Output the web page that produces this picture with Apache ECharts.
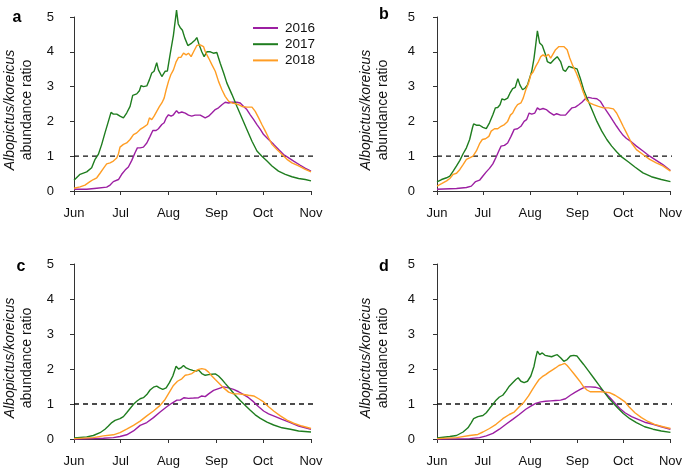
<!DOCTYPE html>
<html>
<head>
<meta charset="utf-8">
<script src="https://cdn.jsdelivr.net/npm/echarts@6/dist/echarts.min.js"></script>
<style>
html,body{margin:0;padding:0;background:#fff;}
#chart{width:685px;height:468px;}
</style>
</head>
<body>
<div id="chart"></div>
<script>
// ---- axis definitions (day index from 1 June) ----
const monthTicks = [0, 30, 61, 92, 122, 153];
const monthLabels = ['Jun', 'Jul', 'Aug', 'Sep', 'Oct', 'Nov'];
const yMin = 0, yMax = 5, yStep = 1;
const seriesNames = ['2016', '2017', '2018'];
const panelLetters = ['a', 'b', 'c', 'd'];
const refLevel = [[0, 1], [157, 1]];   // ratio = 1 reference

// ---- panel a ----
const a2016 = [[0,0.05],[8.2,0.05],[14.7,0.08],[21.1,0.11],[23.3,0.17],[25.4,0.27],[28.7,0.33],[30.8,0.48],[33,0.6],[35.1,0.69],[37.3,0.88],[39.4,1.1],[40.9,1.24],[42.7,1.24],[44.8,1.26],[47,1.38],[49.1,1.57],[50.9,1.74],[53,1.74],[54.5,1.79],[56.7,1.91],[58.2,1.96],[59.5,2.1],[61,2.19],[62.7,2.15],[64.2,2.19],[66.2,2.31],[67.5,2.24],[69.6,2.27],[71.8,2.24],[73.9,2.18],[76,2.15],[78.2,2.18],[81.5,2.18],[84.7,2.1],[86.9,2.15],[89,2.24],[91.2,2.34],[93.3,2.39],[95.5,2.48],[97.6,2.55],[99.8,2.53],[102,2.55],[105.2,2.55],[107.3,2.53],[109.5,2.43],[111.6,2.34],[113.8,2.19],[116,2.05],[118.1,1.91],[120.3,1.77],[122.4,1.62],[125.6,1.48],[128.9,1.34],[132.1,1.19],[135.3,1.05],[138.6,0.95],[141.8,0.86],[146.1,0.74],[149.4,0.65],[153,0.57]];
const a2017 = [[0,0.31],[3.9,0.48],[8.2,0.55],[11.4,0.67],[13.6,0.91],[15.7,1.05],[17.9,1.34],[20,1.67],[22.2,2.0],[23.9,2.26],[25.4,2.21],[27.6,2.21],[29.7,2.15],[31.9,2.1],[34,2.24],[36.2,2.43],[37.9,2.75],[40.5,2.79],[42.2,2.88],[43.3,3.03],[44.8,3.0],[47,3.02],[48.7,3.2],[50.2,3.39],[51.7,3.44],[53.4,3.69],[54.5,3.48],[56.7,3.29],[58.8,3.44],[60.3,3.45],[62,3.91],[64.2,4.48],[66.2,5.2],[67.3,4.8],[68.5,4.7],[70,4.62],[71.5,4.4],[73.5,4.18],[76,4.25],[78.2,4.34],[79.3,4.41],[80.8,4.2],[82.5,4.0],[84,3.86],[85.8,4.0],[88,4.0],[90,3.96],[92.2,3.98],[94.4,3.67],[96.6,3.39],[98.7,3.1],[102,2.77],[105.2,2.43],[108.4,2.1],[111.6,1.77],[114.9,1.43],[118.1,1.15],[121.3,1.0],[124.6,0.86],[127.8,0.72],[132,0.57],[136.4,0.48],[140.7,0.41],[145,0.36],[149.3,0.33],[153,0.29]];
const a2018 = [[0,0.08],[3.9,0.12],[7.1,0.17],[10.3,0.27],[12.5,0.33],[14.7,0.38],[16.8,0.51],[19,0.65],[21.1,0.78],[23.3,0.81],[25.4,0.86],[27.6,0.95],[28.7,1.07],[29.7,1.26],[31.9,1.34],[34,1.38],[36.2,1.48],[38.4,1.62],[40.5,1.67],[42.7,1.77],[44.8,1.83],[47.4,1.91],[48.7,2.1],[50.2,2.05],[51.7,2.15],[53.4,2.29],[55.2,2.43],[56.7,2.53],[58.2,2.67],[59.5,2.91],[61,3.15],[62.5,3.34],[64.2,3.48],[66,3.72],[67.5,3.84],[69,3.84],[70.7,3.96],[72.4,3.91],[73.9,3.96],[75.6,3.86],[77.2,4.0],[79.3,4.18],[81.5,4.2],[83.6,4.15],[84.7,4.01],[86.9,3.82],[89,3.63],[91.2,3.44],[93.3,3.15],[95.5,2.91],[97.6,2.72],[99.8,2.58],[102,2.53],[104,2.51],[106.2,2.48],[108.4,2.43],[111.6,2.41],[114.9,2.41],[117,2.29],[119.2,2.1],[121.3,1.91],[123.5,1.72],[125.6,1.53],[127.8,1.34],[131,1.19],[134.3,1.05],[137.5,0.91],[140.7,0.81],[145,0.72],[149.3,0.62],[153,0.55]];

// ---- panel b ----
const b2016 = [[0,0.05],[12.8,0.07],[19.3,0.1],[22.5,0.14],[25.3,0.27],[27.9,0.31],[30.1,0.43],[32.3,0.55],[34.4,0.65],[36.6,0.78],[38.7,0.97],[40.5,1.15],[42,1.29],[44.2,1.31],[46.3,1.38],[48.5,1.57],[50.6,1.77],[52.8,1.79],[55,1.86],[57.1,2.0],[58.7,2.05],[60.4,2.24],[62.1,2.21],[64.1,2.24],[65.8,2.39],[67.3,2.34],[69.5,2.37],[71.6,2.34],[73.8,2.26],[76.6,2.18],[78.4,2.22],[81,2.18],[84.2,2.18],[86.4,2.29],[88.5,2.39],[90.7,2.41],[92.9,2.48],[95,2.55],[97.2,2.65],[99.4,2.69],[101.5,2.67],[104.8,2.65],[107,2.58],[109.1,2.43],[111.3,2.29],[113.4,2.15],[115.6,2.0],[117.7,1.86],[119.9,1.72],[122,1.6],[124.2,1.51],[127.5,1.41],[130.7,1.29],[135,1.15],[139.4,1.0],[143.7,0.88],[148,0.76],[153,0.59]];
const b2017 = [[0,0.26],[3,0.33],[6.3,0.38],[8.4,0.43],[10.6,0.57],[12.8,0.72],[15,0.88],[17.1,1.07],[19.3,1.24],[21.4,1.48],[23.2,1.81],[24,1.93],[25.8,1.89],[27.9,1.89],[30.1,1.83],[32.3,1.79],[34.4,1.96],[36.6,2.19],[38.3,2.39],[39.8,2.4],[41.3,2.48],[42.6,2.65],[44.2,2.62],[46.3,2.67],[47.8,2.81],[49.6,2.94],[51.3,2.98],[53,3.23],[54.3,3.05],[56.1,2.91],[57.8,2.96],[59.3,3.05],[60.4,3.05],[62.1,3.44],[63.6,3.82],[64.7,4.2],[65.8,4.6],[67.3,4.25],[69,4.18],[71.2,3.91],[72.3,3.72],[74.5,3.67],[76.6,3.77],[78.8,3.86],[81,3.72],[82.7,3.48],[84.2,3.44],[86.4,3.58],[88.5,3.55],[91.8,3.51],[93.9,3.24],[96.1,2.91],[98.3,2.67],[101.5,2.34],[104.8,2.0],[108,1.72],[111.3,1.48],[114.5,1.29],[117.7,1.13],[121,0.98],[125.3,0.84],[129.7,0.69],[135,0.52],[140.5,0.41],[147,0.33],[153,0.27]];
const b2018 = [[0,0.14],[3,0.21],[6.3,0.29],[8.4,0.36],[10.6,0.48],[12.8,0.51],[15,0.62],[17.1,0.76],[19.3,0.91],[21.4,0.95],[23.6,1.0],[25.8,1.15],[27.9,1.36],[29.7,1.48],[31.8,1.5],[34,1.57],[35.5,1.72],[37.7,1.79],[39.8,1.79],[42,1.86],[44.2,1.91],[46.3,2.0],[48.1,2.18],[49.6,2.24],[51.3,2.39],[52.8,2.48],[55,2.53],[56.5,2.67],[58.2,2.91],[60,3.1],[61.5,3.34],[63,3.42],[64.7,3.58],[66.5,3.72],[68,3.86],[69.5,3.91],[71.2,3.86],[73,3.93],[74.5,3.82],[75.5,3.82],[77.7,4.06],[79.9,4.15],[83.1,4.15],[85.3,4.06],[87,3.82],[89.2,3.58],[91.3,3.39],[93.5,3.15],[95.7,2.86],[97.8,2.62],[100,2.53],[102.6,2.48],[105.8,2.43],[109,2.39],[112.3,2.39],[115.6,2.36],[117.7,2.24],[119.9,2.05],[122,1.86],[124.2,1.67],[127.5,1.38],[130.7,1.19],[135,1.05],[139.4,0.91],[143.7,0.81],[148,0.72],[153,0.57]];

// ---- panel c ----
const c2016 = [[0,0],[19,0.02],[25.4,0.04],[29.7,0.07],[34,0.12],[38.4,0.23],[42.7,0.39],[47,0.47],[51.3,0.61],[55.6,0.77],[59.9,0.92],[63.1,1.02],[66.4,1.11],[68.5,1.11],[71.1,1.18],[73.9,1.16],[77.2,1.17],[80.4,1.18],[82.5,1.23],[84.7,1.21],[86.9,1.29],[90.1,1.39],[93.3,1.44],[96.6,1.49],[99.8,1.46],[103,1.42],[106.3,1.35],[109.5,1.27],[112.7,1.18],[116,1.06],[119.2,0.92],[122.4,0.8],[125.6,0.72],[130,0.64],[134.3,0.56],[139.7,0.47],[145,0.37],[153,0.28]];
const c2017 = [[0,0.03],[8.2,0.06],[12.5,0.1],[16.8,0.18],[20,0.28],[22.2,0.37],[24.4,0.47],[26.5,0.53],[29.7,0.58],[31.9,0.64],[34,0.75],[36.2,0.87],[38.4,0.99],[40.5,1.08],[42.7,1.15],[44.8,1.18],[47,1.27],[49.1,1.4],[51.3,1.48],[53.4,1.51],[55.2,1.46],[57.3,1.42],[59.5,1.46],[61.6,1.61],[63.8,1.8],[65.9,2.08],[67.5,2.0],[69,2.03],[70.7,2.1],[72.4,2.03],[74.6,1.99],[76.7,1.96],[78.9,1.94],[80.4,1.97],[82.5,1.87],[84.7,1.82],[86.9,1.84],[89,1.85],[91.2,1.86],[93.3,1.8],[95.5,1.7],[97.6,1.59],[100.9,1.42],[104.1,1.25],[107.3,1.1],[110.6,0.96],[113.8,0.82],[117,0.69],[120.3,0.59],[124.6,0.48],[128.9,0.4],[134.3,0.32],[139.7,0.28],[145,0.23],[153,0.2]];
const c2018 = [[0,0.01],[12.5,0.04],[19,0.09],[25.4,0.12],[29.7,0.18],[34,0.28],[38.4,0.39],[42.7,0.51],[47,0.66],[51.3,0.8],[55.6,0.96],[58.8,1.13],[61.6,1.34],[64.2,1.53],[66.8,1.65],[69.6,1.72],[71.8,1.82],[73.9,1.84],[76.1,1.87],[78.2,1.94],[80.4,1.99],[82.5,2.01],[84.7,1.99],[86.9,1.91],[89,1.8],[91.2,1.7],[93.3,1.61],[96.6,1.46],[99.8,1.34],[103,1.29],[106.3,1.29],[109.5,1.27],[112.7,1.25],[116,1.23],[119.2,1.15],[122.4,1.06],[125.6,0.92],[128.9,0.8],[133.2,0.66],[137.5,0.54],[141.8,0.45],[147.2,0.37],[153,0.3]];

// ---- panel d ----
const d2016 = [[0,0],[21.4,0.01],[27.9,0.04],[32.3,0.09],[36.6,0.16],[40.9,0.28],[45.2,0.42],[49.6,0.56],[53.9,0.7],[58.2,0.85],[61.5,0.94],[64.7,1.02],[68,1.06],[71.2,1.08],[74.5,1.09],[77.7,1.1],[81,1.11],[84.2,1.15],[87.4,1.25],[90.7,1.34],[93.9,1.42],[97.2,1.49],[100.4,1.49],[103.7,1.48],[106.9,1.44],[110.2,1.32],[113.4,1.18],[116.7,1.02],[119.9,0.87],[123.2,0.75],[127.5,0.64],[131.8,0.56],[136.1,0.48],[141.6,0.42],[147,0.35],[153,0.28]];
const d2017 = [[0,0.03],[8.4,0.07],[12.8,0.1],[17.1,0.2],[20.3,0.32],[22.5,0.47],[24,0.58],[26.8,0.64],[30.1,0.67],[32.3,0.75],[34.4,0.87],[36.6,0.99],[38.7,1.11],[40.9,1.2],[43.1,1.25],[45.2,1.37],[47.4,1.51],[49.6,1.61],[51.7,1.7],[53.2,1.75],[55,1.65],[57.1,1.61],[59.3,1.65],[61.5,1.8],[63.6,2.08],[64.7,2.32],[65.8,2.51],[67.3,2.41],[69,2.46],[70.8,2.39],[72.9,2.37],[75.1,2.35],[77.3,2.39],[78.8,2.41],[81,2.32],[83.1,2.22],[85.3,2.27],[87.4,2.37],[89.6,2.39],[91.8,2.37],[93.9,2.25],[96.1,2.13],[99.4,1.94],[102.6,1.75],[105.8,1.56],[109.1,1.37],[112.3,1.18],[115.6,1.02],[118.8,0.87],[122.1,0.73],[126.4,0.58],[130.7,0.47],[136.1,0.35],[141.6,0.28],[147,0.23],[153,0.19]];
const d2018 = [[0,0.01],[12.8,0.04],[21.4,0.1],[26.8,0.13],[30.1,0.2],[34.4,0.3],[38.7,0.42],[43.1,0.58],[47.4,0.7],[50.6,0.77],[53.9,0.92],[57.1,1.06],[60,1.23],[62.6,1.42],[64.7,1.56],[66.9,1.7],[69,1.78],[71.2,1.84],[73.4,1.91],[75.5,1.97],[77.7,2.03],[79.9,2.1],[82,2.13],[83.8,2.16],[85.3,2.1],[87.4,1.99],[89.6,1.87],[91.8,1.75],[93.9,1.63],[96.1,1.49],[98.3,1.4],[100.4,1.35],[103.7,1.35],[106.9,1.35],[110.2,1.34],[113.4,1.32],[116.7,1.25],[119.9,1.16],[123.2,1.06],[125.8,0.92],[129.7,0.75],[134,0.61],[138.3,0.5],[142.6,0.42],[148.1,0.35],[153,0.3]];

// ---- styling / layout ----
const colors = {'2016': '#9c1fa2', '2017': '#1f7d1f', '2018': '#ff9d24'};
const FONT = '"Liberation Sans", Arial, sans-serif';
const grids = [
  {left: 74, right: 374, top: 17, bottom: 277},
  {left: 437, right: 13, top: 17, bottom: 277},
  {left: 74, right: 374, top: 264, bottom: 28},
  {left: 437, right: 13, top: 264, bottom: 28}
];
const yOffsets = [11, 13, 11, 13];
const panelData = [
  [a2016, a2017, a2018],
  [b2016, b2017, b2018],
  [c2016, c2017, c2018],
  [d2016, d2017, d2018]
];
const letterPos = [[17, 18], [384, 15], [21, 267], [384, 267]];
const namePos = [[10, 27, 110], [366, 383, 110], [10, 27, 358], [366, 383, 358]];

const xAxes = [], yAxes = [], series = [], graphics = [];
grids.forEach((g, i) => {
  xAxes.push({
    type: 'value', gridIndex: i, min: monthTicks[0], max: monthTicks[monthTicks.length - 1],
    offset: 8,
    axisLine: {show: true, lineStyle: {color: '#333', width: 1}},
    axisTick: {show: true, length: 4, customValues: monthTicks, lineStyle: {color: '#333'}},
    axisLabel: {
      customValues: monthTicks, margin: 8, color: '#111', fontSize: 13, fontFamily: FONT,
      formatter: v => monthLabels[monthTicks.indexOf(v)] || ''
    },
    splitLine: {show: false}
  });
  yAxes.push({
    type: 'value', gridIndex: i, min: yMin, max: yMax, interval: yStep,
    offset: yOffsets[i],
    axisLine: {show: true, lineStyle: {color: '#333', width: 1}},
    axisTick: {show: true, length: 4, lineStyle: {color: '#333'}},
    axisLabel: {margin: 9, color: '#111', fontSize: 13, fontFamily: FONT},
    splitLine: {show: false}
  });
  panelData[i].forEach((d, k) => {
    series.push({
      name: seriesNames[k], type: 'line', xAxisIndex: i, yAxisIndex: i,
      data: d, showSymbol: false, symbol: 'none', smooth: false, clip: false,
      lineStyle: {color: colors[seriesNames[k]], width: 1.4},
      itemStyle: {color: colors[seriesNames[k]]},
      silent: true, z: 3
    });
  });
  series.push({
    type: 'line', xAxisIndex: i, yAxisIndex: i, data: refLevel, clip: false,
    showSymbol: false, symbol: 'none', silent: true, z: 2,
    lineStyle: {color: '#111', width: 1.3, type: [5, 4]}
  });
  graphics.push({
    type: 'text', x: letterPos[i][0], y: letterPos[i][1],
    style: {text: panelLetters[i], font: 'bold 16px ' + FONT, fill: '#000', textAlign: 'center', textVerticalAlign: 'middle'}
  });
  graphics.push({
    type: 'text', x: namePos[i][0], y: namePos[i][2], rotation: Math.PI / 2,
    style: {text: 'Albopictus/koreicus', font: 'italic 14px ' + FONT, fill: '#111', textAlign: 'center', textVerticalAlign: 'middle'}
  });
  graphics.push({
    type: 'text', x: namePos[i][1], y: namePos[i][2], rotation: Math.PI / 2,
    style: {text: 'abundance ratio', font: '14px ' + FONT, fill: '#111', textAlign: 'center', textVerticalAlign: 'middle'}
  });
});

const chart = echarts.init(document.getElementById('chart'), null, {renderer: 'canvas'});
chart.setOption({
  animation: false,
  backgroundColor: '#fff',
  grid: grids,
  xAxis: xAxes,
  yAxis: yAxes,
  legend: {
    data: seriesNames, orient: 'vertical', left: 247, top: 16,
    itemWidth: 25, itemHeight: 14, itemGap: 2.2,
    itemStyle: {opacity: 0},
    textStyle: {fontSize: 13.5, fontFamily: FONT, color: '#111', padding: [0, 0, 0, 2]},
    selectedMode: false
  },
  series: series,
  graphic: graphics
});
</script>
</body>
</html>
